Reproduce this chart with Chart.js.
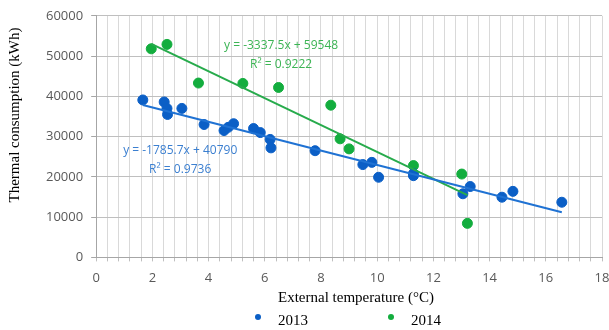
<!DOCTYPE html>
<html>
<head>
<meta charset="utf-8">
<script src="https://cdn.jsdelivr.net/npm/chart.js@4.4.1/dist/chart.umd.min.js"></script>
<style>
  html, body { margin: 0; padding: 0; background: #fff; }
  #wrap { width: 609px; height: 330px; }
</style>
</head>
<body>
<div id="wrap"><canvas id="chartTemp" width="609" height="330"></canvas></div>
<script>
  // values
  var temp2013 = [1.66, 2.42, 2.52, 2.54, 3.05, 3.84, 4.55, 4.7, 4.89, 5.6, 5.84, 6.19, 6.22, 7.79, 9.49, 9.81, 10.05, 11.29, 11.29, 13.05, 13.31, 14.44, 14.83, 16.57];
  var cons2013 = [39100, 38600, 37000, 35500, 37000, 33000, 31500, 32300, 33200, 32000, 31000, 29300, 27200, 26500, 23050, 23600, 19900, 20300, 20800, 15800, 17600, 14950, 16400, 13700];
  var temp2014 = [1.96, 2.52, 3.64, 5.22, 6.49, 8.35, 8.68, 9.0, 11.29, 13.01, 13.21];
  var cons2014 = [51800, 52900, 43300, 43200, 42200, 37800, 29450, 26950, 22800, 20700, 8450];

  // trendline equations as printed on the chart
  var slope2013 = -1785.7, intercept2013 = 40790, r2_2013 = '0.9736';
  var slope2014 = -3337.5, intercept2014 = 59548, r2_2014 = '0.9222';

  var seriesLabels = ['2013', '2014'];
  var xTitle = 'External temperature (\u00b0C)';
  var yTitle = 'Thermal consumption (kWh)';

  // x axis: labels every 2, minor grid every 0.4
  var xMin = 0, xMax = 18, xLabelStep = 2, xGridStep = 0.4;

  var blueDot = '#0b5fc6';
  var greenDot = '#13ad3e';
  var blueLine = '#1f72d3';
  var greenLine = '#27ab4c';
  var serif = '"Liberation Serif", "Times New Roman", serif';
  var sans = '"Open Sans", sans-serif';

  function toPoints(xs, ys) {
    return xs.map(function (x, i) { return { x: x, y: ys[i] }; });
  }

  function trend(xs, a, b) {
    var lo = Math.min.apply(null, xs);
    var hi = Math.max.apply(null, xs);
    return [{ x: lo, y: a * lo + b }, { x: hi, y: a * hi + b }];
  }

  // equation labels, anchored in data coordinates
  var eqLabels = [
    { x: 6.58, y: 52600, color: '#3cb454', lines: ['y = ' + slope2014 + 'x + ' + intercept2014, 'R\u00b2 = ' + r2_2014] },
    { x: 2.99, y: 26600, color: '#3b7fd0', lines: ['y = ' + slope2013 + 'x + ' + intercept2013, 'R\u00b2 = ' + r2_2013] }
  ];

  var equationPlugin = {
    id: 'equations',
    afterDatasetsDraw: function (chart) {
      var ctx = chart.ctx;
      var xs = chart.scales.x, ys = chart.scales.y;
      ctx.save();
      ctx.font = '12px ' + sans;
      ctx.textAlign = 'center';
      ctx.textBaseline = 'middle';
      eqLabels.forEach(function (e) {
        ctx.fillStyle = e.color;
        var px = xs.getPixelForValue(e.x);
        var py = ys.getPixelForValue(e.y);
        e.lines.forEach(function (t, i) {
          ctx.fillText(t, px, py + i * 19);
        });
      });
      ctx.restore();
    }
  };

  // axis titles sit a little off-centre, legend under the x title
  var extrasPlugin = {
    id: 'extras',
    afterDraw: function (chart) {
      var ctx = chart.ctx;
      ctx.save();
      ctx.fillStyle = '#000';
      ctx.font = '15px ' + serif;
      ctx.textAlign = 'center';
      ctx.textBaseline = 'middle';
      ctx.fillText(xTitle, 356, 298);
      ctx.translate(15, 115);
      ctx.rotate(-Math.PI / 2);
      ctx.fillText(yTitle, 0, 0);
      ctx.restore();

      var pos = [258, 391];
      ctx.save();
      ctx.font = '15px ' + serif;
      ctx.textBaseline = 'middle';
      ctx.textAlign = 'left';
      [0, 1].forEach(function (i) {
        var ds = chart.data.datasets[i];
        ctx.fillStyle = ds.backgroundColor;
        ctx.beginPath();
        ctx.arc(pos[i], 317, 3, 0, Math.PI * 2);
        ctx.fill();
        ctx.fillStyle = '#000';
        ctx.fillText(ds.label, pos[i] + 20, 321);
      });
      ctx.restore();
    }
  };

  var ctx = document.getElementById('chartTemp');
  new Chart(ctx, {
    type: 'scatter',
    data: {
      datasets: [{
        label: seriesLabels[0],
        data: toPoints(temp2013, cons2013),
        backgroundColor: blueDot,
        borderColor: blueDot,
        pointRadius: 5,
        order: 2
      }, {
        label: seriesLabels[1],
        data: toPoints(temp2014, cons2014),
        backgroundColor: greenDot,
        borderColor: greenDot,
        pointRadius: 5,
        order: 2
      }, {
        label: 'trend 2013',
        data: trend(temp2013, slope2013, intercept2013),
        showLine: true,
        borderColor: blueLine,
        borderWidth: 2,
        pointRadius: 0,
        order: 0
      }, {
        label: 'trend 2014',
        data: trend(temp2014, slope2014, intercept2014),
        showLine: true,
        borderColor: greenLine,
        borderWidth: 2,
        pointRadius: 0,
        order: 0
      }]
    },
    options: {
      responsive: false,
      animation: false,
      layout: { padding: { left: 38, right: 7, top: 10, bottom: 35 } },
      plugins: {
        legend: { display: false },
        tooltip: { enabled: false }
      },
      scales: {
        x: {
          type: 'linear',
          min: xMin,
          max: xMax,
          border: { color: '#a6a6a6', width: 1 },
          grid: { color: '#d9d9d9', tickLength: 4, tickColor: '#bfbfbf' },
          afterBuildTicks: function (scale) {
            var ticks = [];
            var n = Math.round((xMax - xMin) / xGridStep);
            for (var i = 0; i <= n; i++) {
              ticks.push({ value: +(xMin + i * xGridStep).toFixed(2) });
            }
            scale.ticks = ticks;
          },
          afterFit: function (scale) {
            scale.paddingLeft = 0;
            scale.paddingRight = 0;
          },
          ticks: {
            autoSkip: false,
            maxRotation: 0,
            color: '#595959',
            font: { family: sans, size: 13 },
            padding: 9,
            callback: function (v) {
              var r = Math.round(v);
              return (Math.abs(v - r) < 1e-6 && r % xLabelStep === 0) ? String(r) : '';
            }
          }
        },
        y: {
          min: 0,
          max: 60000,
          border: { color: '#a6a6a6', width: 1 },
          grid: { color: '#bfbfbf', tickLength: 5, tickColor: '#a6a6a6' },
          ticks: {
            stepSize: 10000,
            color: '#595959',
            font: { family: sans, size: 13 },
            padding: 8,
            callback: function (v) { return String(v); }
          }
        }
      }
    },
    plugins: [equationPlugin, extrasPlugin]
  });
</script>
</body>
</html>
